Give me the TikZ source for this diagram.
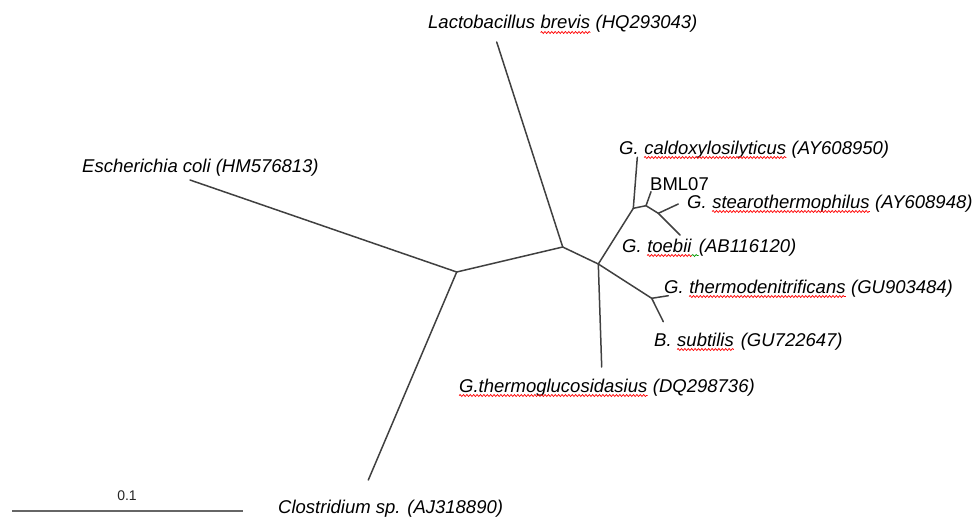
\documentclass[tikz,border=0pt]{standalone}
\usepackage{fontspec}
\setmainfont{Liberation Sans}
\usetikzlibrary{decorations.pathmorphing}
\begin{document}
\begin{tikzpicture}[x=1pt,y=-1pt,
  branch/.style={draw=black!75, line width=1.5pt, line cap=round},
  scalebar/.style={draw=black!60, line width=2.8pt},
  piece/.style={anchor=base west, inner sep=0pt, font=\fontsize{18.5}{22}\selectfont\itshape, text=black},
  uppiece/.style={anchor=base west, inner sep=0pt, font=\fontsize{18.5}{22}\selectfont, text=black},
  spell/.style={draw=red, line width=0.7pt, decorate, decoration={snake, amplitude=1pt, segment length=3.4pt}},
  spellgreen/.style={spell, draw=green!60!black},
]
\useasboundingbox (0,0) rectangle (973,516);
% internal nodes
\coordinate (A) at (456.7,272);
\coordinate (B) at (562.7,247);
\coordinate (C) at (598.3,264);
\coordinate (D) at (633.3,208.3);
\coordinate (E) at (646,205.7);
\coordinate (F) at (658.3,213.3);
\coordinate (G) at (651.7,298.3);
% leaf ends
\coordinate (ecoli) at (190,180);
\coordinate (clos) at (368.3,480);
\coordinate (lacto) at (496.7,42);
\coordinate (gluco) at (601.7,367);
\coordinate (caldo) at (637.3,157.3);
\coordinate (bml) at (651,191.7);
\coordinate (stearo) at (678.3,204);
\coordinate (toebii) at (680,235);
\coordinate (denitr) at (668.3,295.7);
\coordinate (subt) at (663.3,321.7);
% branches
\draw[branch] (ecoli) -- (A);
\draw[branch] (clos) -- (A);
\draw[branch] (A) -- (B);
\draw[branch] (lacto) -- (B);
\draw[branch] (B) -- (C);
\draw[branch] (C) -- (gluco);
\draw[branch] (C) -- (D);
\draw[branch] (D) -- (caldo);
\draw[branch] (D) -- (E);
\draw[branch] (E) -- (bml);
\draw[branch] (E) -- (F);
\draw[branch] (F) -- (stearo);
\draw[branch] (F) -- (toebii);
\draw[branch] (C) -- (G);
\draw[branch] (G) -- (denitr);
\draw[branch] (G) -- (subt);
% labels
\node[piece] (lacA) at (428,29) {Lactobacillus\ \null};
\node[piece] (lacB) at (lacA.base east) {brevis};
\node[piece] (lacC) at (lacB.base east) {\ (HQ293043)};
\draw[spell] ([yshift=-3.5pt]lacB.base west) -- ([yshift=-3.5pt]lacB.base east);

\node[piece] (tecoli) at (82,172) {Escherichia coli (HM576813)};

\node[piece] (calA) at (619,154) {G.\ \null};
\node[piece] (calB) at (calA.base east) {caldoxylosilyticus};
\node[piece] (calC) at (calB.base east) {\ (AY608950)};
\draw[spell] ([yshift=-3.5pt]calB.base west) -- ([yshift=-3.5pt]calB.base east);

\node[uppiece] (tbml) at (650,190) {BML07};

\node[piece] (stA) at (687,208) {G.\ \null};
\node[piece] (stB) at (stA.base east) {stearothermophilus};
\node[piece] (stC) at (stB.base east) {\ (AY608948)};
\draw[spell] ([yshift=-3.5pt]stB.base west) -- ([yshift=-3.5pt]stB.base east);

\node[piece] (toA) at (622,252) {G.\ \null};
\node[piece] (toB) at (toA.base east) {toebii};
\node[piece] (toS) at (toB.base east) {\null\ \hspace{1.5pt}\null};
\node[piece] (toC) at (toS.base east) {(AB116120)};
\draw[spell] ([yshift=-3.5pt]toB.base west) -- ([yshift=-3.5pt]toB.base east);
\draw[spellgreen] ([yshift=-3.5pt]toS.base west) -- ([yshift=-3.5pt]toS.base east);

\node[piece] (deA) at (664,293) {G.\ \null};
\node[piece] (deB) at (deA.base east) {thermodenitrificans};
\node[piece] (deC) at (deB.base east) {\ (GU903484)};
\draw[spell] ([yshift=-3.5pt]deB.base west) -- ([yshift=-3.5pt]deB.base east);

\node[piece] (suA) at (654,346) {B.\ \null};
\node[piece] (suB) at (suA.base east) {subtilis};
\node[piece] (suC) at (suB.base east) {\ \hspace{1.5pt}(GU722647)};
\draw[spell] ([yshift=-3.5pt]suB.base west) -- ([yshift=-3.5pt]suB.base east);

\node[piece] (glB) at (459,392) {G.thermoglucosidasius};
\node[piece] (glC) at (glB.base east) {\ (DQ298736)};
\draw[spell] ([yshift=-3.5pt]glB.base west) -- ([yshift=-3.5pt]glB.base east);

\node[piece] (tclos) at (278,513) {Clostridium sp. (AJ318890)};
% scale bar
\coordinate (sb1) at (12,511);
\coordinate (sb2) at (243,511);
\draw[scalebar] (sb1) -- (sb2);
\node[anchor=base, inner sep=0pt, font=\fontsize{14}{16}\selectfont, text=black!85] (tscale) at (127,500) {0.1};
\end{tikzpicture}
\end{document}
